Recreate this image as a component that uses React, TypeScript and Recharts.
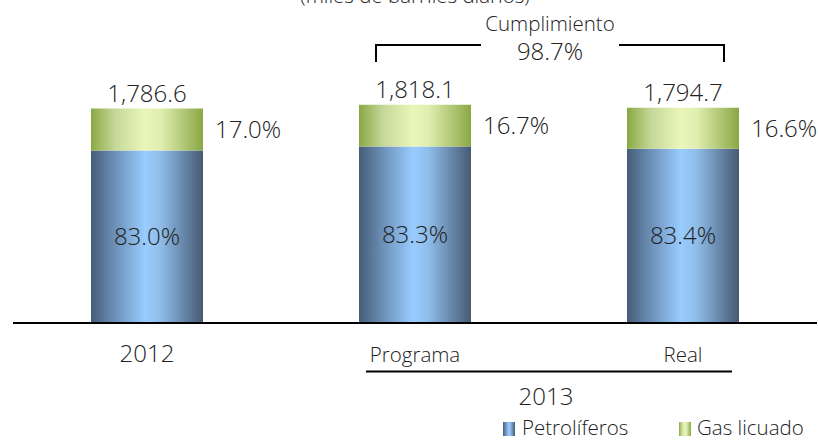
import React from "react";
import { BarChart, Bar, XAxis, YAxis, LabelList } from "recharts";

// ── Data ─────────────────────────────────────────────────────────────────────

const categories = ["2012", "Programa", "Real"];
const petroliferos = [1436.6, 1470.1, 1452.7];
const gasLicuado = [350.0, 348.0, 342.0];
const petroShare = ["83.0%", "83.3%", "83.4%"];
const gasShare = ["17.0%", "16.7%", "16.6%"];
const groupLabel = "2013";
const cumplimiento = "98.7%";

// ── Layout ───────────────────────────────────────────────────────────────────

const W = 818;
const H = 440;
const MARGIN = { top: 83, right: 1, left: 13, bottom: 87 };
const AXIS_H = 30;
const BASE_Y = H - MARGIN.bottom - AXIS_H; // 323
const BAND = (W - MARGIN.left - MARGIN.right) / categories.length;
const center = (i: number) => MARGIN.left + BAND * (i + 0.5);

const FONT = "'Open Sans', 'DejaVu Sans', sans-serif";
const WEIGHT = 300;
const INK = "#222";
const NUM = 24;
const WORD = 20.5;

const sizeFor = (t: string) => (/^[\d.,%]+$/.test(t) ? NUM : WORD);
const fmt = (v: number) =>
  v.toLocaleString("en-US", { minimumFractionDigits: 1, maximumFractionDigits: 1 });

const rows = categories.map((name, i) => ({
  name,
  petroliferos: petroliferos[i],
  gas: gasLicuado[i],
  total: fmt(petroliferos[i] + gasLicuado[i]),
  petroShare: petroShare[i],
  gasShare: gasShare[i],
}));

// ── Labels ───────────────────────────────────────────────────────────────────

function TotalLabel(p: any) {
  const x = Number(p.x), y = Number(p.y), w = Number(p.width);
  return (
    <text x={x + w / 2} y={y - 7} textAnchor="middle" fontSize={NUM} fill={INK} fontFamily={FONT} fontWeight={WEIGHT}>
      {p.value}
    </text>
  );
}

function SideLabel(p: any) {
  const x = Number(p.x), y = Number(p.y), w = Number(p.width), h = Number(p.height);
  return (
    <text x={x + w + 12} y={y + h / 2} dy="0.36em" fontSize={NUM} fill={INK} fontFamily={FONT} fontWeight={WEIGHT}>
      {p.value}
    </text>
  );
}

function InsideLabel(p: any) {
  const x = Number(p.x), y = Number(p.y), w = Number(p.width), h = Number(p.height);
  return (
    <text x={x + w / 2} y={y + h / 2} dy="0.36em" textAnchor="middle" fontSize={NUM} fill={INK} fontFamily={FONT} fontWeight={WEIGHT}>
      {p.value}
    </text>
  );
}

function CategoryTick(p: any) {
  const t = String(p.payload.value);
  return (
    <text x={p.x} y={BASE_Y + 39} textAnchor="middle" fontSize={sizeFor(t)} fill={INK} fontFamily={FONT} fontWeight={WEIGHT}>
      {t}
    </text>
  );
}

// ── Gradients ────────────────────────────────────────────────────────────────

function Gradients() {
  return (
    <defs>
      <linearGradient id="petroGrad" x1="0" y1="0" x2="1" y2="0">
        <stop offset="0%" stopColor="#465d78" />
        <stop offset="20%" stopColor="#6a8db4" />
        <stop offset="48%" stopColor="#99ccff" />
        <stop offset="62%" stopColor="#8fbde9" />
        <stop offset="100%" stopColor="#465a74" />
      </linearGradient>
      <linearGradient id="gasGrad" x1="0" y1="0" x2="1" y2="0">
        <stop offset="0%" stopColor="#8aa845" />
        <stop offset="22%" stopColor="#c6d99a" />
        <stop offset="48%" stopColor="#eaf6ba" />
        <stop offset="62%" stopColor="#e0eeb0" />
        <stop offset="100%" stopColor="#8aa845" />
      </linearGradient>
    </defs>
  );
}

// ── Main ─────────────────────────────────────────────────────────────────────

export default function App() {
  const prog = center(1);
  const real = center(2);

  return (
    <div style={{ position: "absolute", left: 0, top: 0, width: W, height: H, background: "#fff" }}>
      <BarChart width={W} height={H} data={rows} margin={MARGIN} barSize={112}>
        <Gradients />
        <YAxis hide domain={[0, 2000]} />
        <XAxis
          dataKey="name"
          height={AXIS_H}
          axisLine={{ stroke: "#000", strokeWidth: 2 }}
          tickLine={false}
          tickSize={0}
          tick={<CategoryTick />}
          interval={0}
        />
        <Bar dataKey="petroliferos" name="Petrolíferos" stackId="a" fill="url(#petroGrad)" isAnimationActive={false}>
          <LabelList dataKey="petroShare" content={<InsideLabel />} />
        </Bar>
        <Bar dataKey="gas" name="Gas licuado" stackId="a" fill="url(#gasGrad)" isAnimationActive={false}>
          <LabelList dataKey="total" content={<TotalLabel />} />
          <LabelList dataKey="gasShare" content={<SideLabel />} />
        </Bar>
      </BarChart>

      {/* annotations: title, compliance bracket, 2013 grouping, legend */}
      <svg
        width={W}
        height={H}
        style={{ position: "absolute", left: 0, top: 0, pointerEvents: "none" }}
        fontFamily={FONT}
        fontWeight={WEIGHT}
        fill={INK}
      >
        <text x={415} y={3} textAnchor="middle" fontSize={WORD}>(miles de barriles diarios)</text>

        <text x={550} y={31} textAnchor="middle" fontSize={WORD}>Cumplimiento</text>
        <text x={550} y={60} textAnchor="middle" fontSize={NUM}>{cumplimiento}</text>
        <path
          d={`M${prog - 39} 62 V45 H${prog + 66} M${real - 64} 45 H${real + 41} V62`}
          stroke="#000"
          strokeWidth={2}
          fill="none"
        />

        <line x1={prog - 49} x2={real + 49} y1={371.5} y2={371.5} stroke="#000" strokeWidth={2} />
        <text x={(prog + real) / 2 - 3} y={405} textAnchor="middle" fontSize={NUM}>{groupLabel}</text>

        <rect x={503} y={422} width={12} height={14} fill="url(#petroGrad)" />
        <text x={522} y={435} fontSize={WORD}>Petrolíferos</text>
        <rect x={679} y={422} width={12} height={14} fill="url(#gasGrad)" />
        <text x={697} y={435} fontSize={WORD}>Gas licuado</text>
      </svg>
    </div>
  );
}
